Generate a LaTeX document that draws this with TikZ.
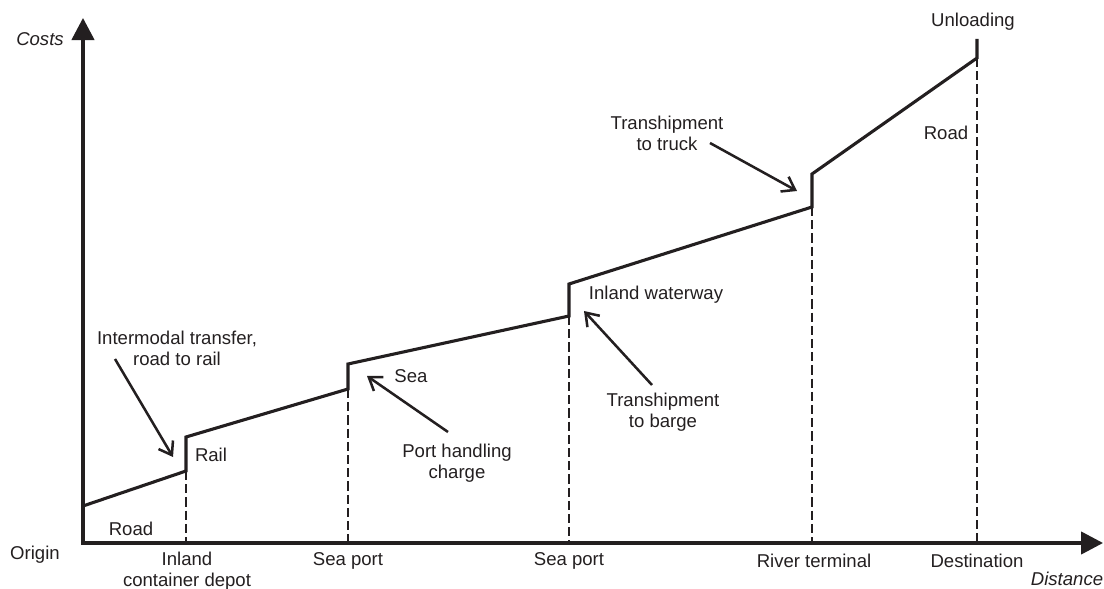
\documentclass[tikz,border=0pt]{standalone}
\usepackage{fontspec}
\setmainfont{Liberation Sans}
\usetikzlibrary{arrows.meta}
\definecolor{ink}{HTML}{231F20}

\begin{document}
\begin{tikzpicture}[x=0.025cm, y={(0cm,-0.025cm)}, every node/.style={font = \fontsize{13.2}{15}\selectfont, align = center, inner sep = 0pt, text = ink}, axis/.style={draw = ink, line width = 2.2pt, {Triangle[length = 5.5mm, width = 5.6mm]}-{Triangle[length = 5.5mm, width = 5.6mm]}}, cost/.style={draw = ink, line width = 2.2pt, line join = miter}, drop/.style={draw = ink, line width = 1.9pt, dash pattern = on 0.23cm off 0.1cm}, pointer/.style={draw = ink, line width = 1.8pt, -{Straight Barb[length = 3mm, width = 4.2mm]}}]

\useasboundingbox (0,0) rectangle (1104,589);

% points on the cost line
\coordinate (road0) at (83,506);
\coordinate (road1) at (186,471);
\coordinate (rail0) at (186,437);
\coordinate (rail1) at (348,389);
\coordinate (sea0) at (348,364);
\coordinate (sea1) at (569,316);
\coordinate (barge0) at (569,284);
\coordinate (barge1) at (812,207);
\coordinate (truck0) at (812,174);
\coordinate (truck1) at (977,58);
\coordinate (unload) at (977,39);

% axes
\draw[axis] (83,18) -- (83,543) -- (1103,543);
\node[font = \fontsize{13.2}{15}\selectfont\itshape] (costs) at (40,39) {Costs};
\node[font = \fontsize{13.2}{15}\selectfont\itshape] (distance) at (1067,579) {Distance};

% places on the distance axis
\node (origin) at (35,555) {Origin};
\node (inlanddepot) at (187,571) {Inland\\container depot};
\node (seaportone) at (348,561) {Sea port};
\node (seaporttwo) at (569,561) {Sea port};
\node (riverterminal) at (814,561) {River terminal};
\node (destination) at (977,561) {Destination};

\foreach \p in {road1, rail1, sea1, barge1, truck1} \draw[drop] (\p) -- (\p |- 0,543);

\draw[cost] (road0) -- (road1) -- (rail0) -- (rail1) -- (sea0) -- (sea1) -- (barge0) -- (barge1) -- (truck0) -- (truck1) -- (unload);

% modes
\node (roadone) at (131,529) {Road};
\node (rail) at (211,455) {Rail};
\node (sea) at (411,376) {Sea};
\node (waterway) at (656,295) {Inland waterway};
\node (roadtwo) at (946,133) {Road};
\node (unloading) at (973,22) {Unloading};

% transfer charges
\node (intermodal) at (177,348) {Intermodal transfer,\\road to rail};
\node (porthandling) at (457,463) {Port handling\\charge};
\node (tobarge) at (663,412) {Transhipment\\to barge};
\node (totruck) at (667,133) {Transhipment\\to truck};

\coordinate (intermodaltip) at (173,457);
\coordinate (porthandlingtip) at (367,376);
\coordinate (tobargetip) at (584,311);
\coordinate (totrucktip) at (797,191);

\draw[pointer] (115,359) -- (intermodaltip);
\draw[pointer] (448,432) -- (porthandlingtip);
\draw[pointer] (652,385) -- (tobargetip);
\draw[pointer] (710,143) -- (totrucktip);
\end{tikzpicture}
\end{document}
